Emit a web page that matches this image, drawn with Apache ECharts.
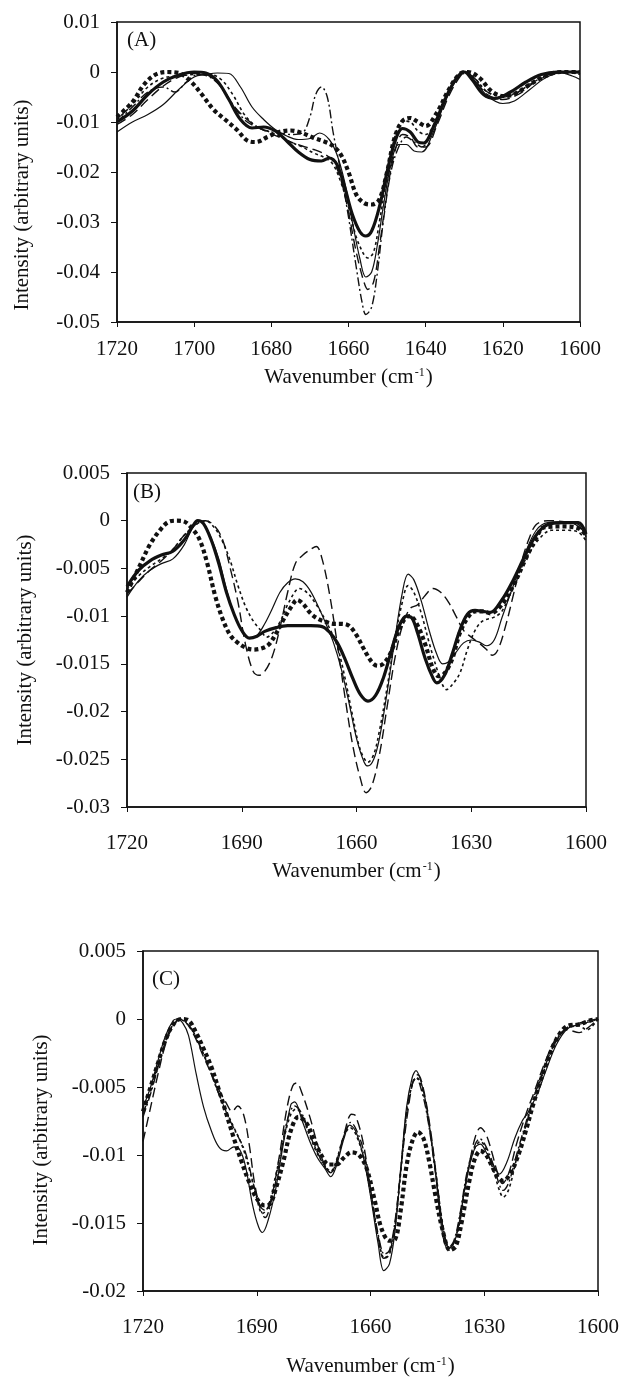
<!DOCTYPE html>
<html>
<head>
<meta charset="utf-8">
<script src="https://cdn.jsdelivr.net/npm/echarts@6/dist/echarts.min.js"></script>
<style>
html,body{margin:0;padding:0;background:#fff;}
#chart{width:624px;height:1380px;}
</style>
</head>
<body>
<div id="chart"></div>
<script>
// ---------- Data (wavenumber cm-1, intensity) ----------
var xTicksA = [1720, 1700, 1680, 1660, 1640, 1620, 1600];
var xTicksBC = [1720, 1690, 1660, 1630, 1600];
var yTicksA = [0.01, 0, -0.01, -0.02, -0.03, -0.04, -0.05];
var yTicksB = [0.005, 0, -0.005, -0.01, -0.015, -0.02, -0.025, -0.03];
var yTicksC = [0.005, 0, -0.005, -0.01, -0.015, -0.02];

// Panel A
var A_thickSolid = [[1720,-0.0100],[1716,-0.0078],[1712,-0.0045],[1708,-0.0020],[1704,-0.0006],[1700,0.0000],[1697,-0.0002],[1694,-0.0018],[1691,-0.0055],[1688,-0.0095],[1685,-0.0112],[1682,-0.0110],[1679,-0.0118],[1676,-0.0138],[1673,-0.0160],[1670,-0.0175],[1667,-0.0178],[1665,-0.0172],[1663,-0.0185],[1661,-0.0230],[1659,-0.0285],[1657,-0.0320],[1655.5,-0.0328],[1654,-0.0318],[1652,-0.0270],[1650,-0.0200],[1648,-0.0140],[1646,-0.0113],[1644,-0.0120],[1642,-0.0140],[1640.5,-0.0142],[1638,-0.0110],[1635,-0.0055],[1632,-0.0012],[1630,0.0000],[1628,-0.0015],[1625,-0.0045],[1622,-0.0053],[1618,-0.0040],[1614,-0.0020],[1610,-0.0005],[1606,0.0000],[1600,0.0000]];
var A_thinSolid = [[1720,-0.0120],[1716,-0.0100],[1712,-0.0085],[1708,-0.0065],[1704,-0.0035],[1700,-0.0010],[1697,-0.0005],[1694,-0.0002],[1691,-0.0003],[1688,-0.0030],[1685,-0.0070],[1682,-0.0095],[1679,-0.0115],[1676,-0.0128],[1673,-0.0135],[1670,-0.0133],[1667.5,-0.0122],[1665,-0.0135],[1663,-0.0165],[1661,-0.0220],[1659,-0.0300],[1657,-0.0375],[1655.5,-0.0410],[1654,-0.0400],[1652.5,-0.0345],[1651,-0.0270],[1649,-0.0185],[1647,-0.0145],[1645,-0.0145],[1643,-0.0158],[1641,-0.0160],[1638,-0.0120],[1635,-0.0060],[1632,-0.0012],[1629.5,0.0000],[1627,-0.0020],[1624,-0.0048],[1620,-0.0063],[1617,-0.0058],[1613,-0.0035],[1609,-0.0012],[1605,-0.0002],[1602,-0.0008],[1600,-0.0015]];
var A_thickDotted = [[1720,-0.0090],[1716,-0.0060],[1713,-0.0025],[1710,-0.0005],[1707,0.0000],[1704,-0.0002],[1701,-0.0018],[1698,-0.0045],[1695,-0.0075],[1692,-0.0095],[1689,-0.0115],[1686,-0.0138],[1684,-0.0140],[1681,-0.0130],[1678,-0.0120],[1675,-0.0117],[1672,-0.0122],[1669,-0.0132],[1666,-0.0140],[1664,-0.0148],[1662,-0.0165],[1660,-0.0200],[1658,-0.0245],[1656,-0.0262],[1654,-0.0265],[1652,-0.0255],[1650,-0.0200],[1648,-0.0130],[1646,-0.0098],[1644,-0.0092],[1642,-0.0100],[1640,-0.0108],[1637,-0.0080],[1634,-0.0035],[1631,-0.0003],[1629,0.0000],[1626,-0.0012],[1623,-0.0038],[1620,-0.0048],[1617,-0.0044],[1613,-0.0025],[1609,-0.0008],[1605,0.0000],[1600,0.0000]];
var A_dashDot = [[1720,-0.0100],[1716,-0.0070],[1712,-0.0040],[1708,-0.0030],[1705,-0.0040],[1702,-0.0020],[1699,-0.0005],[1696,-0.0010],[1693,-0.0030],[1690,-0.0065],[1687,-0.0095],[1684,-0.0110],[1681,-0.0118],[1678,-0.0122],[1675,-0.0125],[1672,-0.0122],[1670,-0.0090],[1668.5,-0.0045],[1667,-0.0030],[1665.5,-0.0050],[1664,-0.0120],[1662,-0.0200],[1660,-0.0290],[1658,-0.0390],[1656.5,-0.0460],[1655.5,-0.0485],[1654,-0.0470],[1652.5,-0.0400],[1651,-0.0300],[1649,-0.0200],[1647,-0.0150],[1645,-0.0130],[1643,-0.0140],[1641,-0.0150],[1638,-0.0110],[1635,-0.0055],[1632,-0.0012],[1630,0.0000],[1627,-0.0015],[1624,-0.0040],[1620,-0.0050],[1616,-0.0040],[1612,-0.0020],[1608,-0.0005],[1604,0.0000],[1600,0.0000]];
var A_dotted = [[1720,-0.0095],[1716,-0.0065],[1712,-0.0030],[1708,-0.0012],[1704,-0.0008],[1700,-0.0005],[1696,-0.0005],[1693,-0.0015],[1690,-0.0045],[1687,-0.0085],[1684,-0.0108],[1681,-0.0118],[1678,-0.0128],[1675,-0.0140],[1672,-0.0150],[1669,-0.0162],[1666,-0.0172],[1664,-0.0185],[1662,-0.0220],[1660,-0.0270],[1658,-0.0330],[1656,-0.0365],[1655,-0.0372],[1653.5,-0.0360],[1652,-0.0300],[1650,-0.0210],[1648,-0.0130],[1646,-0.0098],[1644,-0.0100],[1642,-0.0118],[1640,-0.0125],[1637,-0.0090],[1634,-0.0040],[1631,-0.0005],[1629.5,0.0000],[1627,-0.0015],[1624,-0.0040],[1620,-0.0048],[1616,-0.0040],[1612,-0.0018],[1608,-0.0005],[1604,0.0000],[1600,-0.0005]];
var A_longDash = [[1720,-0.0105],[1716,-0.0085],[1712,-0.0055],[1708,-0.0028],[1704,-0.0010],[1700,-0.0003],[1696,-0.0008],[1693,-0.0030],[1690,-0.0065],[1687,-0.0090],[1684,-0.0108],[1681,-0.0120],[1678,-0.0130],[1675,-0.0140],[1672,-0.0148],[1669,-0.0155],[1666,-0.0165],[1664,-0.0178],[1662,-0.0215],[1660,-0.0280],[1658,-0.0360],[1656,-0.0420],[1655,-0.0435],[1653.5,-0.0420],[1652,-0.0350],[1650,-0.0240],[1648,-0.0160],[1646,-0.0125],[1644,-0.0130],[1642,-0.0150],[1640,-0.0150],[1637,-0.0105],[1634,-0.0048],[1631,-0.0008],[1629.5,0.0000],[1627,-0.0018],[1624,-0.0045],[1620,-0.0055],[1616,-0.0045],[1612,-0.0022],[1608,-0.0006],[1604,0.0000],[1600,-0.0002]];

// Panel B
var B_thickSolid = [[1720,-0.0069],[1717,-0.0052],[1714,-0.0042],[1711,-0.0036],[1708,-0.0032],[1705,-0.0020],[1703,-0.0007],[1701.5,0.0000],[1700,-0.0003],[1698,-0.0020],[1696,-0.0045],[1694,-0.0075],[1692,-0.0098],[1690,-0.0115],[1688,-0.0123],[1686,-0.0121],[1684,-0.0116],[1681,-0.0112],[1678,-0.0110],[1675,-0.0110],[1672,-0.0110],[1669,-0.0111],[1667,-0.0117],[1665,-0.0128],[1663,-0.0145],[1661,-0.0165],[1659,-0.0182],[1657,-0.0189],[1655,-0.0183],[1653,-0.0165],[1651,-0.0138],[1649,-0.0112],[1647,-0.0100],[1645.5,-0.0102],[1644,-0.0118],[1642,-0.0145],[1640,-0.0165],[1639,-0.0170],[1637,-0.0162],[1635,-0.0140],[1633,-0.0115],[1631,-0.0098],[1629,-0.0094],[1627,-0.0095],[1625,-0.0096],[1622,-0.0083],[1619,-0.0062],[1616,-0.0037],[1613,-0.0015],[1610,-0.0004],[1606,-0.0002],[1602,-0.0002],[1600,-0.0014]];
var B_thinSolid = [[1720,-0.0080],[1717,-0.0063],[1714,-0.0052],[1711,-0.0045],[1708,-0.0040],[1705,-0.0025],[1703,-0.0008],[1701.5,0.0000],[1700,-0.0003],[1698,-0.0018],[1696,-0.0040],[1694,-0.0072],[1692,-0.0098],[1690,-0.0115],[1688,-0.0123],[1686,-0.0120],[1684,-0.0108],[1682,-0.0092],[1680,-0.0075],[1678,-0.0065],[1676,-0.0061],[1674,-0.0064],[1672,-0.0074],[1670,-0.0090],[1668,-0.0108],[1666,-0.0128],[1664,-0.0155],[1662,-0.0190],[1660,-0.0228],[1658,-0.0253],[1657,-0.0257],[1655.5,-0.0250],[1654,-0.0228],[1652,-0.0180],[1650,-0.0125],[1648,-0.0075],[1646.5,-0.0056],[1645,-0.0062],[1643,-0.0085],[1641,-0.0115],[1639,-0.0140],[1637.5,-0.0150],[1636,-0.0148],[1634,-0.0138],[1632,-0.0128],[1630,-0.0125],[1628,-0.0127],[1626,-0.0131],[1624,-0.0125],[1622,-0.0102],[1619,-0.0068],[1616,-0.0035],[1613,-0.0010],[1610,-0.0002],[1604,-0.0001],[1602,-0.0004],[1600,-0.0017]];
var B_longDash = [[1720,-0.0077],[1717,-0.0064],[1714,-0.0052],[1711,-0.0042],[1708,-0.0030],[1705,-0.0015],[1702,-0.0004],[1699.5,0.0000],[1697,-0.0006],[1695,-0.0020],[1693,-0.0050],[1691,-0.0085],[1689,-0.0130],[1687,-0.0158],[1685.5,-0.0162],[1684,-0.0158],[1682,-0.0142],[1680,-0.0112],[1678,-0.0075],[1676,-0.0045],[1674,-0.0036],[1672,-0.0030],[1670.5,-0.0027],[1669,-0.0040],[1667,-0.0078],[1665,-0.0130],[1663,-0.0185],[1661,-0.0235],[1659,-0.0270],[1657.5,-0.0285],[1656,-0.0278],[1654,-0.0245],[1652,-0.0195],[1650,-0.0145],[1648,-0.0110],[1646,-0.0092],[1644,-0.0088],[1642,-0.0078],[1640,-0.0071],[1638,-0.0075],[1636,-0.0085],[1634,-0.0100],[1632,-0.0115],[1630,-0.0122],[1628,-0.0128],[1626,-0.0135],[1624.5,-0.0141],[1623,-0.0135],[1621,-0.0110],[1619,-0.0078],[1617,-0.0045],[1615,-0.0020],[1613,-0.0004],[1610,0.0000],[1604,-0.0002],[1602,-0.0006],[1600,-0.0014]];
var B_thickDotted = [[1720,-0.0075],[1717,-0.0050],[1714,-0.0025],[1711,-0.0008],[1709,-0.0001],[1707,0.0000],[1705,-0.0001],[1703,-0.0008],[1701,-0.0020],[1699,-0.0045],[1697,-0.0078],[1695,-0.0103],[1693,-0.0120],[1691,-0.0128],[1689,-0.0133],[1687,-0.0135],[1685,-0.0134],[1683,-0.0130],[1681,-0.0118],[1679,-0.0103],[1677,-0.0090],[1675.5,-0.0083],[1674,-0.0087],[1672,-0.0097],[1670,-0.0103],[1668,-0.0106],[1666,-0.0108],[1664,-0.0108],[1662,-0.0110],[1660,-0.0120],[1658,-0.0135],[1656,-0.0148],[1654.5,-0.0152],[1653,-0.0150],[1651,-0.0138],[1649,-0.0115],[1647,-0.0101],[1646,-0.0100],[1644,-0.0110],[1642,-0.0130],[1640,-0.0155],[1638.5,-0.0163],[1637,-0.0160],[1635,-0.0145],[1633,-0.0118],[1631,-0.0102],[1629,-0.0095],[1627,-0.0095],[1625,-0.0097],[1622,-0.0088],[1619,-0.0068],[1616,-0.0042],[1613,-0.0018],[1611,-0.0007],[1606,-0.0006],[1602,-0.0008],[1600,-0.0015]];
var B_dotted = [[1720,-0.0072],[1717,-0.0058],[1714,-0.0048],[1711,-0.0040],[1708,-0.0030],[1705,-0.0015],[1702,-0.0004],[1699.5,0.0000],[1697,-0.0008],[1695,-0.0022],[1693,-0.0042],[1691,-0.0068],[1689,-0.0090],[1687,-0.0105],[1685,-0.0115],[1683.5,-0.0122],[1682,-0.0118],[1680,-0.0106],[1678,-0.0088],[1676,-0.0074],[1675,-0.0071],[1673,-0.0075],[1671,-0.0085],[1669,-0.0098],[1667,-0.0113],[1665,-0.0132],[1663,-0.0165],[1661,-0.0205],[1659,-0.0240],[1657,-0.0253],[1655.5,-0.0245],[1654,-0.0220],[1652,-0.0175],[1650,-0.0125],[1648,-0.0085],[1646.5,-0.0068],[1645,-0.0075],[1643,-0.0098],[1641,-0.0128],[1639,-0.0155],[1637.5,-0.0172],[1636.5,-0.0177],[1635,-0.0172],[1633,-0.0160],[1631,-0.0135],[1629,-0.0115],[1627,-0.0105],[1624,-0.0101],[1622,-0.0095],[1619,-0.0069],[1617,-0.0050],[1615,-0.0035],[1612,-0.0018],[1609,-0.0010],[1605,-0.0010],[1602,-0.0012],[1600,-0.0021]];

// Panel C
var C_thinSolid = [[1720,-0.0065],[1718,-0.0050],[1716,-0.0030],[1714,-0.0012],[1712,-0.0001],[1711,0.0000],[1709.5,-0.0003],[1708,-0.0012],[1706,-0.0040],[1704,-0.0065],[1702,-0.0082],[1700,-0.0094],[1698,-0.0097],[1696,-0.0094],[1694.5,-0.0096],[1693,-0.0108],[1691,-0.0138],[1689.5,-0.0153],[1688.5,-0.0157],[1687,-0.0148],[1685,-0.0125],[1683,-0.0092],[1681,-0.0063],[1680,-0.0061],[1678,-0.0075],[1676,-0.0090],[1674,-0.0102],[1672,-0.0110],[1670.5,-0.0116],[1669,-0.0108],[1667,-0.0088],[1665.5,-0.0078],[1664,-0.0082],[1662,-0.0100],[1660,-0.0130],[1658,-0.0165],[1656.5,-0.0185],[1655,-0.0180],[1653.5,-0.0155],[1652,-0.0110],[1650.5,-0.0065],[1649,-0.0043],[1648,-0.0038],[1646.5,-0.0048],[1645,-0.0068],[1643,-0.0110],[1641,-0.0158],[1639.5,-0.0169],[1638,-0.0165],[1636.5,-0.0148],[1634.5,-0.0115],[1632.5,-0.0095],[1631,-0.0092],[1629.5,-0.0098],[1627.5,-0.0108],[1626,-0.0114],[1624,-0.0105],[1622,-0.0088],[1620,-0.0075],[1618.5,-0.0069],[1616,-0.0055],[1614,-0.0040],[1611,-0.0019],[1608,-0.0007],[1605,-0.0004],[1602,-0.0002],[1600,0.0000]];
var C_longDash = [[1720,-0.0090],[1718,-0.0065],[1716,-0.0040],[1714,-0.0018],[1712,-0.0005],[1710,0.0000],[1708,-0.0005],[1706,-0.0015],[1704,-0.0028],[1702,-0.0040],[1700,-0.0052],[1698,-0.0062],[1696.5,-0.0068],[1695,-0.0064],[1693.5,-0.0070],[1692,-0.0092],[1690.5,-0.0122],[1689,-0.0138],[1687.5,-0.0141],[1686,-0.0130],[1684,-0.0100],[1682,-0.0065],[1680.5,-0.0049],[1679.5,-0.0047],[1678,-0.0055],[1676,-0.0072],[1674,-0.0092],[1672,-0.0108],[1670.5,-0.0113],[1669,-0.0105],[1667,-0.0085],[1665,-0.0070],[1664,-0.0071],[1662,-0.0090],[1660,-0.0125],[1658,-0.0160],[1656.5,-0.0176],[1655,-0.0172],[1653.5,-0.0150],[1652,-0.0110],[1650,-0.0065],[1648.5,-0.0043],[1647.5,-0.0041],[1646,-0.0052],[1644,-0.0085],[1642,-0.0130],[1640.5,-0.0160],[1639,-0.0168],[1637.5,-0.0160],[1636,-0.0138],[1634,-0.0108],[1632.5,-0.0088],[1631,-0.0080],[1629.5,-0.0085],[1628,-0.0098],[1626.5,-0.0113],[1625.2,-0.0121],[1623.5,-0.0113],[1621.5,-0.0092],[1619,-0.0070],[1617,-0.0055],[1614,-0.0032],[1611,-0.0014],[1608,-0.0008],[1605,-0.0010],[1602,-0.0005],[1600,0.0000]];
var C_thickDotted = [[1720,-0.0068],[1718,-0.0050],[1716,-0.0032],[1714,-0.0015],[1712,-0.0004],[1710,0.0000],[1708,-0.0001],[1706,-0.0010],[1704,-0.0022],[1702,-0.0035],[1700,-0.0052],[1698,-0.0070],[1696,-0.0088],[1694,-0.0105],[1692,-0.0120],[1690,-0.0132],[1688,-0.0137],[1686.5,-0.0136],[1685,-0.0125],[1683,-0.0105],[1681,-0.0082],[1679,-0.0072],[1677,-0.0076],[1675,-0.0088],[1673,-0.0100],[1671,-0.0107],[1669,-0.0107],[1667,-0.0102],[1665,-0.0098],[1663,-0.0100],[1661,-0.0110],[1659,-0.0132],[1657,-0.0155],[1655,-0.0163],[1653.5,-0.0162],[1652,-0.0140],[1650.5,-0.0108],[1649,-0.0090],[1647.5,-0.0083],[1646,-0.0088],[1644.5,-0.0105],[1643,-0.0128],[1641,-0.0155],[1639,-0.0170],[1637.5,-0.0167],[1636,-0.0150],[1634,-0.0120],[1632.5,-0.0103],[1631,-0.0097],[1629.5,-0.0100],[1628,-0.0108],[1626.5,-0.0116],[1625,-0.0119],[1623,-0.0113],[1621,-0.0100],[1619,-0.0082],[1617,-0.0062],[1614,-0.0036],[1611,-0.0015],[1608,-0.0005],[1605,-0.0004],[1602,-0.0001],[1600,0.0000]];
var C_dashDot = [[1720,-0.0072],[1718,-0.0055],[1716,-0.0035],[1714,-0.0016],[1712,-0.0004],[1710.5,0.0000],[1709,-0.0002],[1707,-0.0008],[1705,-0.0020],[1703,-0.0033],[1701,-0.0048],[1699,-0.0062],[1697,-0.0075],[1695,-0.0086],[1693,-0.0098],[1691,-0.0120],[1689,-0.0140],[1687.8,-0.0146],[1686,-0.0132],[1684,-0.0105],[1682,-0.0075],[1680,-0.0064],[1678,-0.0070],[1676,-0.0085],[1674,-0.0098],[1672,-0.0109],[1670.5,-0.0113],[1669,-0.0106],[1667,-0.0086],[1665.2,-0.0076],[1664,-0.0080],[1662,-0.0095],[1660,-0.0125],[1658,-0.0158],[1656.3,-0.0173],[1655,-0.0170],[1653.5,-0.0148],[1652,-0.0110],[1650.5,-0.0068],[1649,-0.0048],[1648,-0.0043],[1646.5,-0.0053],[1645,-0.0072],[1643,-0.0110],[1641,-0.0152],[1639.3,-0.0168],[1638,-0.0163],[1636.5,-0.0145],[1634.5,-0.0112],[1632.5,-0.0093],[1631.2,-0.0088],[1629.5,-0.0094],[1627.5,-0.0108],[1626,-0.0122],[1625,-0.0126],[1623.5,-0.0120],[1621.5,-0.0100],[1619,-0.0076],[1617,-0.0058],[1614,-0.0035],[1611,-0.0015],[1608,-0.0006],[1605,-0.0003],[1602,-0.0001],[1600,0.0000]];
var C_dotted = [[1720,-0.0070],[1718,-0.0052],[1716,-0.0033],[1714,-0.0015],[1712,-0.0004],[1710,0.0000],[1708,-0.0004],[1706,-0.0014],[1704,-0.0026],[1702,-0.0040],[1700,-0.0055],[1698,-0.0068],[1696,-0.0080],[1694,-0.0092],[1692,-0.0110],[1690,-0.0132],[1688.5,-0.0143],[1687,-0.0138],[1685,-0.0115],[1683,-0.0090],[1681,-0.0070],[1679.5,-0.0066],[1678,-0.0072],[1676,-0.0086],[1674,-0.0099],[1672,-0.0108],[1670.5,-0.0112],[1669,-0.0104],[1667,-0.0086],[1665.3,-0.0080],[1664,-0.0084],[1662,-0.0100],[1660,-0.0128],[1658,-0.0160],[1656.3,-0.0176],[1655,-0.0173],[1653.5,-0.0152],[1652,-0.0112],[1650.5,-0.0070],[1649,-0.0048],[1647.8,-0.0043],[1646.5,-0.0050],[1645,-0.0070],[1643,-0.0108],[1641,-0.0150],[1639.2,-0.0170],[1638,-0.0167],[1636.5,-0.0150],[1634.5,-0.0115],[1632.5,-0.0095],[1631,-0.0090],[1629.5,-0.0096],[1627.5,-0.0112],[1626,-0.0126],[1625,-0.0131],[1623.5,-0.0125],[1621.5,-0.0103],[1619,-0.0078],[1617,-0.0060],[1614,-0.0036],[1611,-0.0016],[1608,-0.0007],[1605,-0.0005],[1603,-0.0008],[1600,0.0000]];

// ---------- Styles ----------
var FONT = '"Liberation Serif", "Times New Roman", serif';
var INK = '#111';
var styles = {
  thickSolid:  {width: 3.2, type: 'solid'},
  thinSolid:   {width: 1.2, type: 'solid'},
  thickDotted: {width: 4.2, type: [4, 3]},
  dotted:      {width: 1.6, type: [3, 3]},
  dashDot:     {width: 1.4, type: [9, 3, 2, 3]},
  longDash:    {width: 1.4, type: [10, 5]}
};

function mkSeries(name, data, styleKey, idx) {
  var st = styles[styleKey];
  return {
    name: name, type: 'line', data: data,
    xAxisIndex: idx, yAxisIndex: idx,
    showSymbol: false, symbol: 'none', smooth: 0.35,
    lineStyle: {color: INK, width: st.width, type: st.type, cap: 'butt', join: 'round'},
    z: 3
  };
}

function yFmt(v) { return String(+v.toFixed(3)); }
function xFmt(v) { return String(Math.round(v)); }

function mkX(idx, interval, ticks, labelMargin, nameGap) {
  return {
    type: 'value', gridIndex: idx, min: ticks[ticks.length - 1], max: ticks[0], interval: interval, inverse: true,
    axisLine: {show: true, onZero: false, lineStyle: {color: INK, width: 1.5}},
    axisTick: {show: true, inside: false, length: 5, lineStyle: {color: INK, width: 1}},
    splitLine: {show: false},
    axisLabel: {color: INK, fontFamily: FONT, fontSize: 21, margin: labelMargin, formatter: xFmt},
    name: 'Wavenumber (cm{sup|-1})', nameLocation: 'middle', nameGap: nameGap,
    nameTextStyle: {color: INK, fontFamily: FONT, fontSize: 21,
      rich: {sup: {fontFamily: FONT, fontSize: 12, verticalAlign: 'top', color: INK, padding: [0, 1, 0, 1]}}}
  };
}
function mkY(idx, interval, ticks) {
  return {
    type: 'value', gridIndex: idx, min: ticks[ticks.length - 1], max: ticks[0], interval: interval,
    axisLine: {show: true, onZero: false, lineStyle: {color: INK, width: 1.5}},
    axisTick: {show: true, inside: false, length: 6, lineStyle: {color: INK, width: 1}},
    splitLine: {show: false},
    axisLabel: {color: INK, fontFamily: FONT, fontSize: 21, margin: 17, formatter: yFmt}
  };
}

function ytitle(x, y) {
  return {type: 'text', x: x, y: y, rotation: Math.PI / 2,
    style: {text: 'Intensity (arbitrary units)', fill: INK, font: '21px ' + FONT,
      textAlign: 'center', textVerticalAlign: 'middle', align: 'center', verticalAlign: 'middle'}};
}
function plabel(txt, x, y) {
  return {type: 'text', x: x, y: y,
    style: {text: txt, fill: INK, font: '21px ' + FONT,
      textAlign: 'left', textVerticalAlign: 'middle', align: 'left', verticalAlign: 'middle'}};
}

var option = {
  backgroundColor: '#fff',
  animation: false,
  grid: [
    {left: 117, top: 22, width: 463, height: 300, show: true, borderColor: INK, borderWidth: 1.5, backgroundColor: 'transparent'},
    {left: 127, top: 473, width: 459, height: 334, show: true, borderColor: INK, borderWidth: 1.5, backgroundColor: 'transparent'},
    {left: 143, top: 951, width: 455, height: 340, show: true, borderColor: INK, borderWidth: 1.5, backgroundColor: 'transparent'}
  ],
  xAxis: [mkX(0, 20, xTicksA, 17, 45), mkX(1, 30, xTicksBC, 26, 54), mkX(2, 30, xTicksBC, 26, 65)],
  yAxis: [mkY(0, 0.01, yTicksA), mkY(1, 0.005, yTicksB), mkY(2, 0.005, yTicksC)],
  graphic: [
    ytitle(22, 205), ytitle(25, 640), ytitle(41, 1140),
    plabel('(A)', 127, 40), plabel('(B)', 133, 492), plabel('(C)', 152, 979)
  ],
  series: [
    mkSeries('A thin solid', A_thinSolid, 'thinSolid', 0),
    mkSeries('A dotted', A_dotted, 'dotted', 0),
    mkSeries('A dash-dot', A_dashDot, 'dashDot', 0),
    mkSeries('A long dash', A_longDash, 'longDash', 0),
    mkSeries('A thick dotted', A_thickDotted, 'thickDotted', 0),
    mkSeries('A thick solid', A_thickSolid, 'thickSolid', 0),
    mkSeries('B thin solid', B_thinSolid, 'thinSolid', 1),
    mkSeries('B dotted', B_dotted, 'dotted', 1),
    mkSeries('B long dash', B_longDash, 'longDash', 1),
    mkSeries('B thick dotted', B_thickDotted, 'thickDotted', 1),
    mkSeries('B thick solid', B_thickSolid, 'thickSolid', 1),
    mkSeries('C thin solid', C_thinSolid, 'thinSolid', 2),
    mkSeries('C dotted', C_dotted, 'dotted', 2),
    mkSeries('C dash-dot', C_dashDot, 'dashDot', 2),
    mkSeries('C long dash', C_longDash, 'longDash', 2),
    mkSeries('C thick dotted', C_thickDotted, 'thickDotted', 2)
  ]
};

var chart = echarts.init(document.getElementById('chart'), null, {renderer: 'canvas', width: 624, height: 1380});
chart.setOption(option);
</script>
</body>
</html>
